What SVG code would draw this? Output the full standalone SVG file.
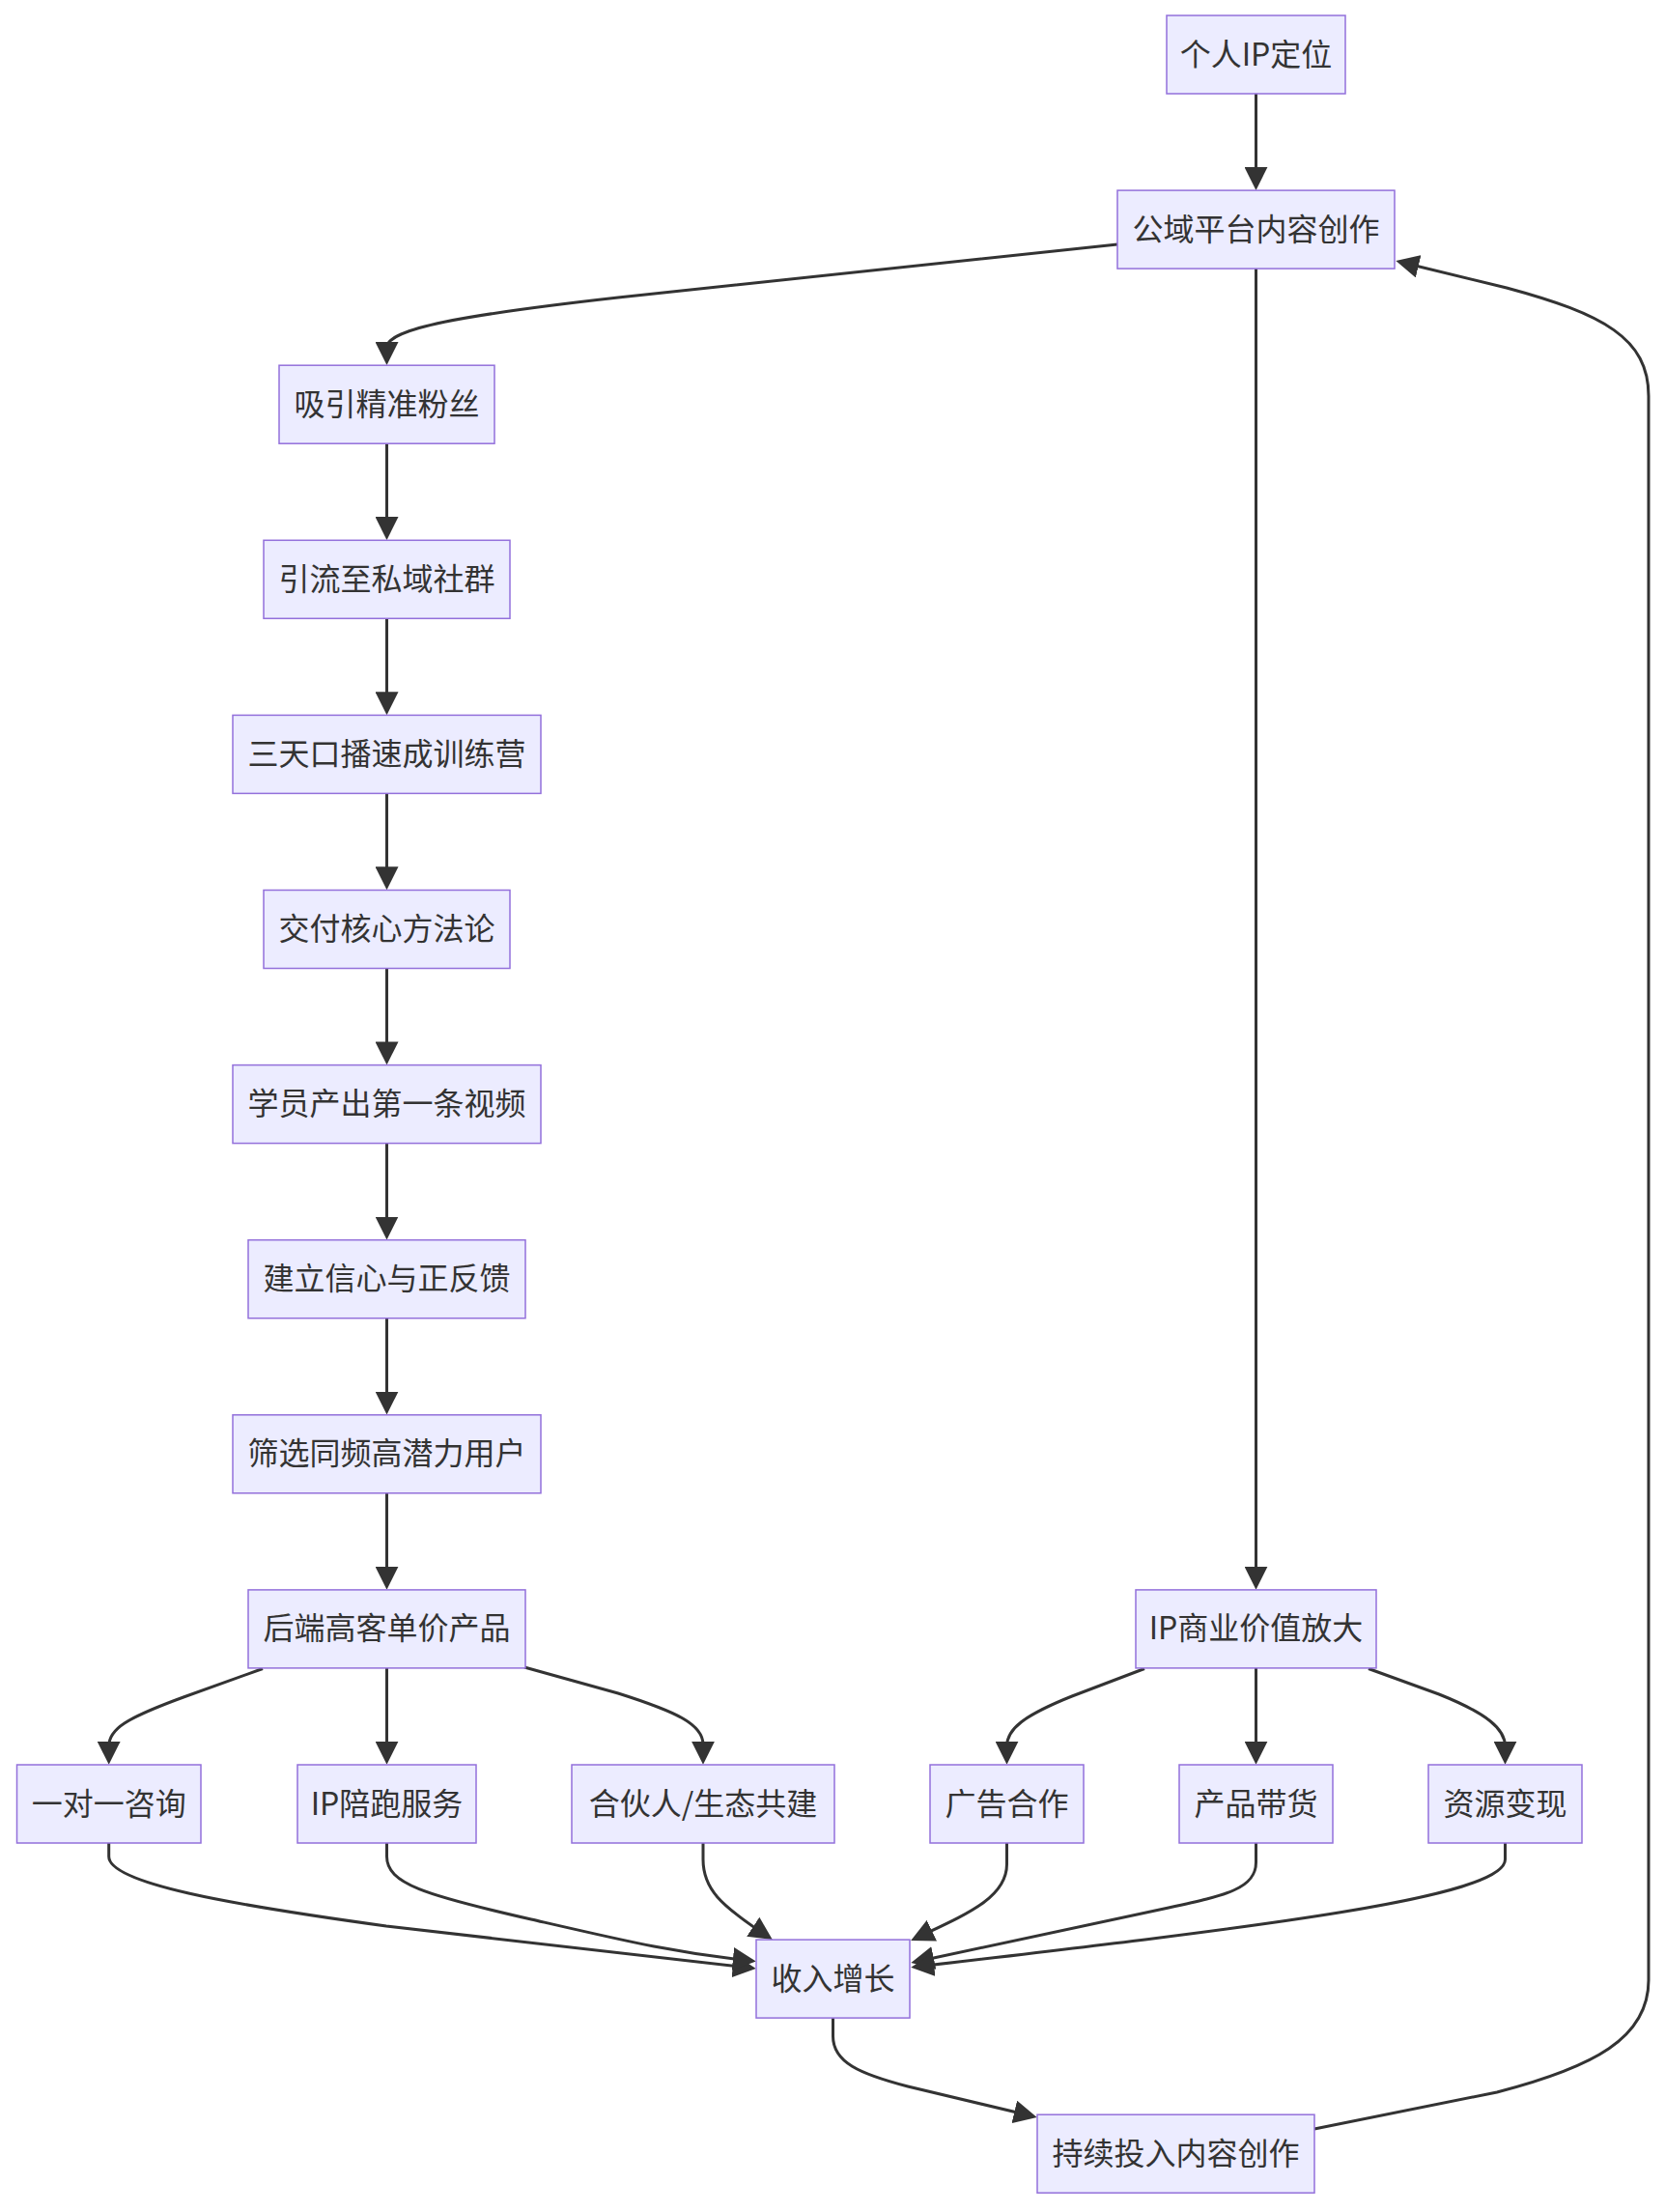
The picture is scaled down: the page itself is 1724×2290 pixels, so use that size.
<svg xmlns="http://www.w3.org/2000/svg" width="1724" height="2290" viewBox="0 0 1724 2290">
<style>
.node rect{fill:#ECECFF;stroke:#9370DB;stroke-width:1.5}
.node text{font-family:"Noto Sans CJK SC","Noto Sans",sans-serif;font-size:32px;fill:#333;text-anchor:middle}
.edges path{fill:none;stroke:#333;stroke-width:3;marker-end:url(#arr)}
</style>
<defs>
<marker id="arr" viewBox="0 0 10 10" refX="8" refY="5" markerWidth="24" markerHeight="24" markerUnits="userSpaceOnUse" orient="auto"><path d="M0,0 L10,5 L0,10 z" fill="#333"/></marker>
</defs>
<rect width="1724" height="2290" fill="#fff"/>
<g class="edges" id="connectors">
<path d="M1300.5,97 L1300.5,192.1"/>
<path d="M1300.5,278.1 L1300.5,1640.9"/>
<path d="M1157,253 L640,308 C480,326 400.5,340 400.5,360 L400.5,373.2"/>
<path d="M400.5,459.2 L400.5,554.3"/>
<path d="M400.5,640.3 L400.5,735.4"/>
<path d="M400.5,821.4 L400.5,916.5"/>
<path d="M400.5,1002.5 L400.5,1097.6"/>
<path d="M400.5,1183.6 L400.5,1278.7"/>
<path d="M400.5,1364.7 L400.5,1459.8"/>
<path d="M400.5,1545.8 L400.5,1640.9"/>
<path d="M272,1727.5 L190,1757 C130,1779 112.7,1790 112.7,1808 L112.7,1822"/>
<path d="M400.5,1726.9 L400.5,1822"/>
<path d="M543,1726 L640,1753 C700,1772 728,1785 728,1806 L728,1822"/>
<path d="M1185,1727.5 L1110,1756 C1060,1776 1042.5,1790 1042.5,1808 L1042.5,1822"/>
<path d="M1300.5,1726.9 L1300.5,1822"/>
<path d="M1417,1727.5 L1490,1754 C1540,1774 1558.5,1790 1558.5,1808 L1558.5,1822"/>
<path d="M112.7,1908 L112.7,1922 C112.7,1950 240,1972 400,1994 L778,2037.4"/>
<path d="M400.5,1908 L400.5,1922 C400.5,1950 440,1962 550,1987 C650,2010 700,2022 778,2030"/>
<path d="M728,1908 L728,1925 C728,1955 745,1972 795.8,2005.3"/>
<path d="M1042.5,1908 L1042.5,1930 C1042.5,1965 1000,1982 947.5,2006.9"/>
<path d="M1300.5,1908 L1300.5,1928 C1300.5,1955 1270,1962 1210,1975 L948,2031"/>
<path d="M1558.5,1908 L1558.5,1925 C1558.5,1965 1300,1995 948,2036.3"/>
<path d="M862.5,2089.1 L862.5,2108 C862.5,2135 890,2147 940,2160 L1069,2190.8"/>
<path d="M1361,2204 L1550,2166 C1650,2140 1707,2110 1707,2050 L1707,410 C1707,350 1660,325 1560,298 L1450,271.2"/>
</g>
<g class="node" id="n0"><rect x="1208" y="16" width="185" height="81"/><text x="1300.5" y="67.5">个人IP定位</text></g>
<g class="node" id="n1"><rect x="1157" y="197.1" width="287" height="81"/><text x="1300.5" y="248.6">公域平台内容创作</text></g>
<g class="node" id="n2"><rect x="289" y="378.2" width="223" height="81"/><text x="400.5" y="429.7">吸引精准粉丝</text></g>
<g class="node" id="n3"><rect x="273" y="559.3" width="255" height="81"/><text x="400.5" y="610.8">引流至私域社群</text></g>
<g class="node" id="n4"><rect x="241" y="740.4" width="319" height="81"/><text x="400.5" y="791.9">三天口播速成训练营</text></g>
<g class="node" id="n5"><rect x="273" y="921.5" width="255" height="81"/><text x="400.5" y="973">交付核心方法论</text></g>
<g class="node" id="n6"><rect x="241" y="1102.6" width="319" height="81"/><text x="400.5" y="1154.1">学员产出第一条视频</text></g>
<g class="node" id="n7"><rect x="257" y="1283.7" width="287" height="81"/><text x="400.5" y="1335.2">建立信心与正反馈</text></g>
<g class="node" id="n8"><rect x="241" y="1464.8" width="319" height="81"/><text x="400.5" y="1516.3">筛选同频高潜力用户</text></g>
<g class="node" id="n9"><rect x="257" y="1645.9" width="287" height="81"/><text x="400.5" y="1697.4">后端高客单价产品</text></g>
<g class="node" id="n10"><rect x="1176" y="1645.9" width="249" height="81"/><text x="1300.5" y="1697.4">IP商业价值放大</text></g>
<g class="node" id="n11"><rect x="17.5" y="1827" width="190.5" height="81"/><text x="112.7" y="1878.5">一对一咨询</text></g>
<g class="node" id="n12"><rect x="308" y="1827" width="185" height="81"/><text x="400.5" y="1878.5">IP陪跑服务</text></g>
<g class="node" id="n13"><rect x="592" y="1827" width="272" height="81"/><text x="728" y="1878.5">合伙人/生态共建</text></g>
<g class="node" id="n14"><rect x="963" y="1827" width="159" height="81"/><text x="1042.5" y="1878.5">广告合作</text></g>
<g class="node" id="n15"><rect x="1221" y="1827" width="159" height="81"/><text x="1300.5" y="1878.5">产品带货</text></g>
<g class="node" id="n16"><rect x="1479" y="1827" width="159" height="81"/><text x="1558.5" y="1878.5">资源变现</text></g>
<g class="node" id="n17"><rect x="783" y="2008.1" width="159" height="81"/><text x="862.5" y="2059.6">收入增长</text></g>
<g class="node" id="n18"><rect x="1074" y="2189.2" width="287" height="81"/><text x="1217.5" y="2240.7">持续投入内容创作</text></g>
</svg>
